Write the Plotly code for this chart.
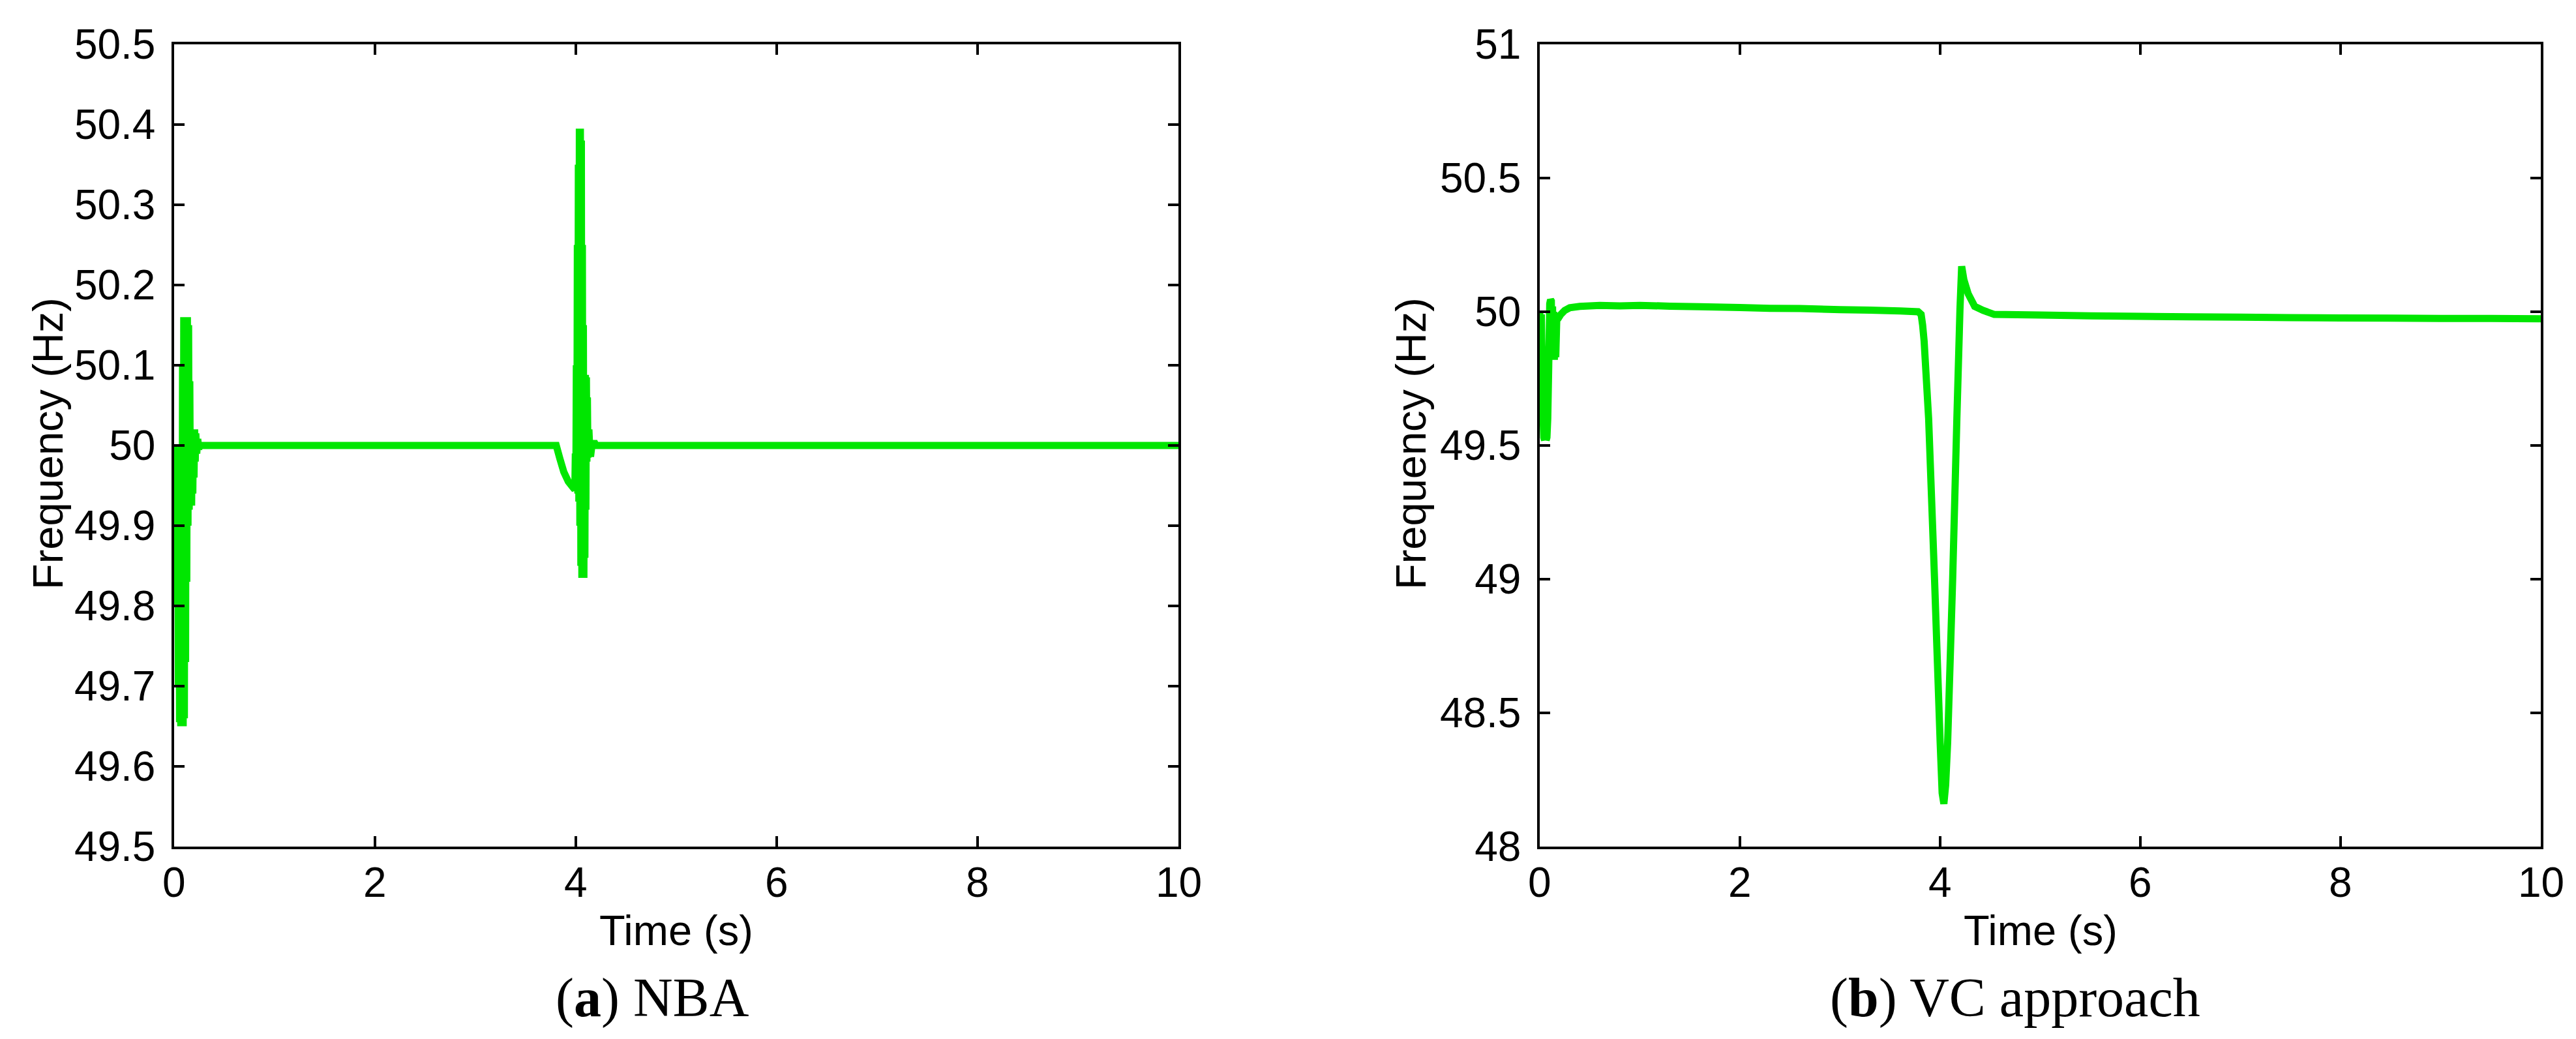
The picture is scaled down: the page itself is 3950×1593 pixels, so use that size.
import plotly.graph_objects as go

# ---------------- data ----------------
nba_time = [0.000, 0.006, 0.012, 0.018, 0.024, 0.030, 0.036, 0.042, 0.048, 0.054,
            0.060, 0.066, 0.072, 0.078, 0.084, 0.090, 0.096, 0.102, 0.108, 0.114,
            0.120, 0.126, 0.132, 0.138, 0.144, 0.150, 0.156, 0.162, 0.168, 0.174,
            0.180, 0.186, 0.192, 0.198, 0.204, 0.210, 0.216, 0.225, 0.235, 0.245,
            0.260, 1.000, 2.000, 3.000, 3.805, 3.840, 3.880, 3.925, 3.970, 3.990,
            3.995, 4.000, 4.005, 4.010, 4.015, 4.020, 4.025, 4.030, 4.035, 4.040,
            4.045, 4.050, 4.055, 4.060, 4.065, 4.070, 4.075, 4.080, 4.085, 4.090,
            4.095, 4.100, 4.105, 4.110, 4.115, 4.120, 4.130, 4.140, 4.150, 4.160,
            4.180, 4.200, 6.000, 8.000, 10.000]
nba_freq = [50.000, 49.950, 49.995, 49.900, 49.995, 49.800, 49.990, 49.700, 49.990, 49.655,
            49.995, 49.650, 50.000, 49.650, 50.100, 49.650, 50.160, 49.660, 50.160, 49.730,
            50.160, 49.830, 50.160, 49.900, 50.150, 49.920, 50.080, 49.925, 50.020, 49.925,
            50.020, 49.940, 50.020, 49.960, 50.020, 49.980, 50.015, 49.990, 50.008, 49.996,
            50.000, 50.000, 50.000, 50.000, 50.000, 49.984, 49.967, 49.955, 49.948, 49.945,
            49.990, 49.945, 50.100, 49.945, 50.250, 49.940, 50.350, 49.930, 50.395, 49.900,
            50.395, 49.850, 50.380, 49.835, 50.250, 49.835, 50.150, 49.835, 50.088, 49.860,
            50.088, 49.920, 50.085, 49.980, 50.060, 49.985, 50.020, 49.990, 49.990, 50.000,
            50.005, 50.000, 50.000, 50.000, 50.000]

vc_time = [0.000, 0.008, 0.016, 0.024, 0.032, 0.040, 0.048, 0.056, 0.064, 0.072,
           0.080, 0.090, 0.100, 0.108, 0.116, 0.122, 0.128, 0.134, 0.140, 0.146,
           0.152, 0.160, 0.170, 0.185, 0.210, 0.250, 0.300, 0.400, 0.600, 0.800,
           1.000, 1.300, 1.600, 2.000, 2.300, 2.600, 3.000, 3.300, 3.600, 3.780,
           3.810, 3.825, 3.840, 3.885, 3.944, 4.000, 4.020, 4.037, 4.055, 4.075,
           4.125, 4.167, 4.198, 4.215, 4.237, 4.280, 4.345, 4.430, 4.540, 5.000,
           5.500, 6.000, 6.500, 7.000, 7.500, 8.000, 8.500, 9.000, 9.500, 10.000]
vc_freq = [50.000, 49.830, 49.990, 49.800, 49.620, 49.530, 49.520, 49.870, 49.520, 49.530,
           49.600, 49.800, 50.030, 50.045, 50.040, 49.830, 50.020, 49.820, 50.000, 49.820,
           49.990, 49.830, 49.970, 49.975, 49.990, 50.005, 50.015, 50.020, 50.024, 50.022,
           50.024, 50.021, 50.019, 50.016, 50.013, 50.012, 50.008, 50.006, 50.003, 50.000,
           49.990, 49.950, 49.890, 49.600, 49.000, 48.390, 48.200, 48.160, 48.230, 48.390,
           49.000, 49.600, 50.010, 50.170, 50.120, 50.067, 50.020, 50.005, 49.990, 49.988,
           49.985, 49.983, 49.981, 49.980, 49.978, 49.977, 49.976, 49.975, 49.975, 49.974]

x_ticks = [0, 2, 4, 6, 8, 10]
x_ticklabels = ["0", "2", "4", "6", "8", "10"]
nba_yticks = [49.5, 49.6, 49.7, 49.8, 49.9, 50.0, 50.1, 50.2, 50.3, 50.4, 50.5]
nba_yticklabels = ["49.5", "49.6", "49.7", "49.8", "49.9", "50", "50.1", "50.2", "50.3", "50.4", "50.5"]
vc_yticks = [48.0, 48.5, 49.0, 49.5, 50.0, 50.5, 51.0]
vc_yticklabels = ["48", "48.5", "49", "49.5", "50", "50.5", "51"]

x_title = "Time (s)"
y_title = "Frequency (Hz)"
captions = ["(<b>a</b>) NBA", "(<b>b</b>) VC approach"]

# ---------------- layout helpers ----------------
W, H = 3950, 1593
GREEN = "#00e600"
SANS = "Liberation Sans, Arial, sans-serif"
SERIF = "Liberation Serif, Times New Roman, serif"


def fx(px):
    return px / W


def fy(py):
    return 1 - py / H


fig = go.Figure()
fig.add_trace(go.Scatter(x=nba_time, y=nba_freq, mode="lines",
                         line=dict(color=GREEN, width=11, simplify=False),
                         xaxis="x", yaxis="y", showlegend=False))
fig.add_trace(go.Scatter(x=vc_time, y=vc_freq, mode="lines",
                         line=dict(color=GREEN, width=11, simplify=False),
                         xaxis="x2", yaxis="y2", showlegend=False))

axis_common = dict(showline=True, linecolor="black", linewidth=3.5, mirror="ticks",
                   ticks="inside", ticklen=16, tickwidth=3.5, tickcolor="black",
                   showgrid=False, zeroline=False, automargin=False,
                   tickfont=dict(family=SANS, size=64, color="black"))

fig.update_layout(
    template="none",
    width=W, height=H,
    margin=dict(l=0, r=0, t=0, b=0, autoexpand=False),
    paper_bgcolor="white", plot_bgcolor="white",
    xaxis=dict(domain=[fx(259), fx(1799)], range=[0, 10], tickvals=x_ticks,
               showticklabels=False, anchor="y", **axis_common),
    yaxis=dict(domain=[fy(1290), fy(60)], range=[49.5, 50.5], tickvals=nba_yticks,
               ticktext=nba_yticklabels, anchor="x", ticklabelstandoff=12, **axis_common),
    xaxis2=dict(domain=[fx(2353), fx(3888)], range=[0, 10], tickvals=x_ticks,
                showticklabels=False, anchor="y2", **axis_common),
    yaxis2=dict(domain=[fy(1290), fy(60)], range=[48, 51], tickvals=vc_yticks,
                ticktext=vc_yticklabels, anchor="x2", ticklabelstandoff=12, **axis_common),
)

ann = []
# x tick labels placed on the axes' own scale
for xref in ["x", "x2"]:
    for v, lab in zip(x_ticks, x_ticklabels):
        ann.append(dict(x=v, y=fy(1345), xref=xref, yref="paper", text=lab,
                        showarrow=False, xanchor="center", yanchor="middle",
                        font=dict(family=SANS, size=64, color="black")))

for cx, cap, capx, ylx in [((259 + 1799) / 2, captions[0], 992, 66),
                           ((2353 + 3888) / 2, captions[1], 3082, 2156)]:
    ann.append(dict(x=fx(cx), y=fy(1418), xref="paper", yref="paper", text=x_title,
                    showarrow=False, xanchor="center", yanchor="middle",
                    font=dict(family=SANS, size=65, color="black")))
    ann.append(dict(x=fx(ylx), y=fy(672), xref="paper", yref="paper", text=y_title,
                    showarrow=False, xanchor="center", yanchor="middle", textangle=-90,
                    font=dict(family=SANS, size=65, color="black")))
    ann.append(dict(x=fx(capx), y=fy(1522), xref="paper", yref="paper", text=cap,
                    showarrow=False, xanchor="center", yanchor="middle",
                    font=dict(family=SERIF, size=84, color="black")))
fig.update_layout(annotations=ann)

fig.write_html("out.html")
